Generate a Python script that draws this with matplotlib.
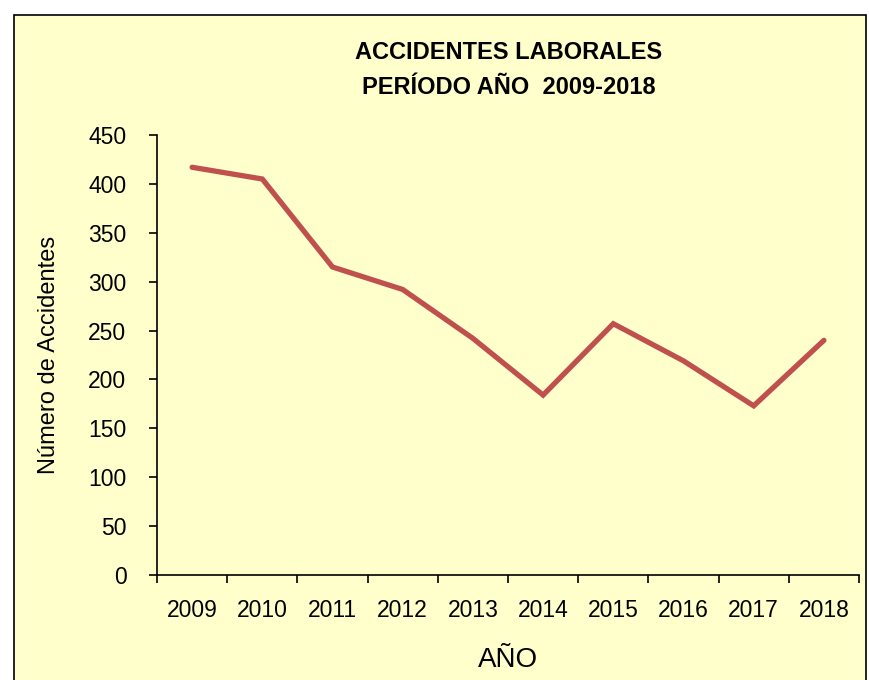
import matplotlib.pyplot as plt
import numpy as np
from matplotlib.patches import Rectangle

plt.rcParams['font.family'] = ['Liberation Sans Narrow', 'Liberation Sans', 'DejaVu Sans']

years = ['2009', '2010', '2011', '2012', '2013', '2014', '2015', '2016', '2017', '2018']
accidentes = [417, 405, 315, 292, 242, 184, 257, 219, 173, 240]

fig = plt.figure(figsize=(8.7, 6.8), dpi=100)
fig.patch.set_facecolor('white')

# fondo del grafico (estilo Excel)
fondo = Rectangle((14 / 870, -0.01), (866 - 14) / 870, (680 - 15) / 680 + 0.01,
                  transform=fig.transFigure, facecolor='#FFFFCC',
                  edgecolor='black', linewidth=1.2, zorder=-5)
fig.patches.append(fondo)

ax = fig.add_axes([157 / 870, (680 - 575) / 680, (859 - 157) / 870, (575 - 135) / 680])
ax.set_facecolor('none')
ax.set_zorder(2)

x = np.arange(len(years))
ax.plot(x, accidentes, color='#C0504D', linewidth=3.8, solid_capstyle='round',
        solid_joinstyle='miter')

ax.set_xlim(-0.5, len(years) - 0.5)
ax.set_ylim(0, 450)
ax.set_yticks(range(0, 451, 50))
ax.set_xticks(np.arange(-0.5, len(years), 1.0))
ax.set_xticklabels([])
ax.set_xticks(x, minor=True)
ax.set_xticklabels(years, minor=True)
ax.tick_params(axis='x', which='minor', length=0, pad=17, labelsize=16.5)
ax.tick_params(axis='x', which='major', length=6, width=1.2, direction='out')
ax.tick_params(axis='y', length=6, width=1.2, direction='out', labelsize=16.5, pad=16)

for s in ['top', 'right']:
    ax.spines[s].set_visible(False)
for s in ['left', 'bottom']:
    ax.spines[s].set_linewidth(1.2)

ax.set_ylabel('Número de Accidentes', fontsize=17, labelpad=20)
ax.set_xlabel('AÑO', fontsize=20, labelpad=18)

fig.text(0.585, 0.897, 'ACCIDENTES LABORALES\nPERÍODO AÑO  2009-2018', ha='center', va='center',
         fontsize=17, fontweight='bold', linespacing=1.7)

fig.savefig('out.png', dpi=100)
